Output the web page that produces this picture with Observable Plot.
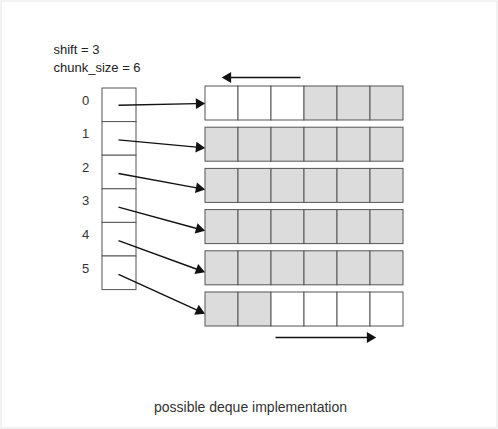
<!DOCTYPE html>
<html><head><meta charset="utf-8">
<script src="https://cdn.jsdelivr.net/npm/d3@7"></script>
<script src="https://cdn.jsdelivr.net/npm/@observablehq/plot@0.6"></script>
<style>body{margin:0;background:#fff}#chart{width:498px;height:429px}</style>
</head><body><div id="chart"></div>
<script>
"use strict";
const SHIFT = 3;
const CHUNK_SIZE = 6;
const indexLabels = ["0", "1", "2", "3", "4", "5"];
// 1 = occupied (gray), 0 = free (white)
const chunkUsed = [
  [0, 0, 0, 1, 1, 1],
  [1, 1, 1, 1, 1, 1],
  [1, 1, 1, 1, 1, 1],
  [1, 1, 1, 1, 1, 1],
  [1, 1, 1, 1, 1, 1],
  [1, 1, 0, 0, 0, 0],
];
const caption = "possible deque implementation";

// layout (pixel units of the diagram)
const IX0 = 102, IX1 = 136, IY0 = 88, IH = 33.6;
const CX0 = 205, CW = 33, CY0 = 86, CH = 34, CGAP = 7.2;

const idx = indexLabels.map((l, i) => ({ l, y1: IY0 + i * IH, y2: IY0 + (i + 1) * IH }));
const cells = chunkUsed.flatMap((row, r) => row.map((u, c) => ({
  u, x1: CX0 + c * CW, x2: CX0 + (c + 1) * CW,
  y1: CY0 + r * (CH + CGAP), y2: CY0 + r * (CH + CGAP) + CH,
})));
const links = indexLabels.map((l, i) => ({
  x1: 118, y1: IY0 + i * IH + IH / 2 + (i ? 1 : 0),
  x2: 202, y2: CY0 + i * (CH + CGAP) + CH / 2 + (i ? 3 : 0),
}));
const dirs = [{ x1: 300, y1: 77, x2: 224, y2: 77 }, { x1: 275, y1: 337, x2: 373, y2: 337 }];
const all = links.concat(dirs);
const heads = all.map((d) => {
  const dx = d.x2 - d.x1, dy = d.y2 - d.y1, L = Math.hypot(dx, dy);
  return { x: d.x2 - 3.5 * dx / L, y: d.y2 - 3.5 * dy / L, a: Math.atan2(dx, -dy) * 180 / Math.PI };
});
const shafts = all.map((d) => {
  const dx = d.x2 - d.x1, dy = d.y2 - d.y1, L = Math.hypot(dx, dy);
  return { ...d, x2: d.x2 - 6 * dx / L, y2: d.y2 - 6 * dy / L };
});

const chart = Plot.plot({
  width: 498, height: 429, margin: 0,
  x: { domain: [0, 498], axis: null },
  y: { domain: [0, 429], reverse: true, axis: null },
  style: { fontFamily: "Liberation Sans, Arial, sans-serif", background: "#fff" },
  marks: [
    Plot.rect([0], { x1: 1, x2: 497, y1: 1, y2: 428, fill: "none", stroke: "#e4e4e4" }),
    Plot.text([`shift = ${SHIFT}`, `chunk_size = ${CHUNK_SIZE}`], {
      x: 53, y: (d, i) => 49 + i * 18, text: (d) => d, textAnchor: "start", fontSize: 13, fill: "#222",
    }),
    Plot.rect(idx, { x1: IX0, x2: IX1, y1: "y1", y2: "y2", fill: "#fff", stroke: "#555", strokeWidth: 1 }),
    Plot.text(idx, { x: 85, y: (d) => d.y1 + 12, text: "l", fontSize: 13, fill: "#333" }),
    Plot.rect(cells, { x1: "x1", x2: "x2", y1: "y1", y2: "y2", fill: (d) => d.u ? "#dcdcdc" : "#fff", stroke: "#555", strokeWidth: 1 }),
    Plot.link(shafts, { x1: "x1", y1: "y1", x2: "x2", y2: "y2", stroke: "#111", strokeWidth: 1.4 }),
    Plot.dot(heads, { x: "x", y: "y", rotate: "a", symbol: "triangle", r: 4, fill: "#111", stroke: "none" }),
    Plot.text([caption], { x: 250, y: 407, text: (d) => d, fontSize: 14, fill: "#333" }),
  ],
});
document.getElementById("chart").appendChild(chart);
</script></body></html>
